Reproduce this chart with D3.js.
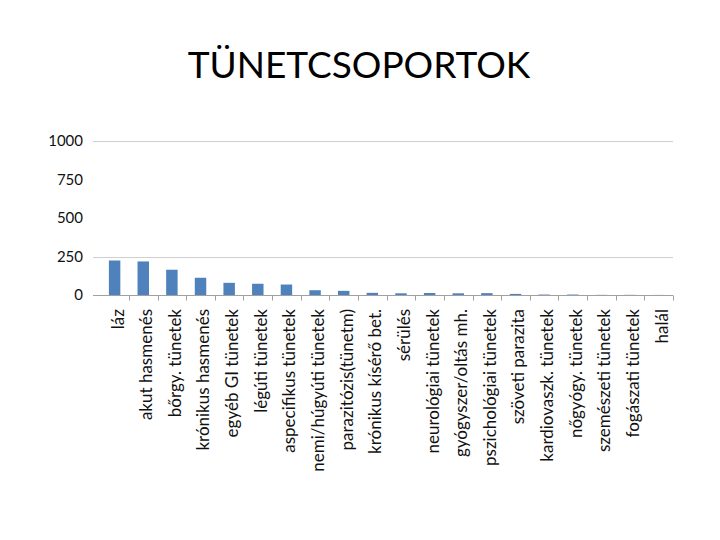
<!DOCTYPE html>
<html>
<head>
<meta charset="utf-8">
<script src="https://cdn.jsdelivr.net/npm/d3@7"></script>
<style>
	body { margin: 0; background: #fff; }
	text { font-family: Lato, "Open Sans", sans-serif; }
</style>
</head>
<body>
<div class="content"></div>
<script>
(function() {
	var categories = ["láz", "akut hasmenés", "bőrgy. tünetek", "krónikus hasmenés", "egyéb GI tünetek",
		"légúti tünetek", "aspecifikus tünetek", "nemi/húgyúti tünetek", "parazitózis(tünetm)", "krónikus kísérő bet.",
		"sérülés", "neurológiai tünetek", "gyógyszer/oltás mh.", "pszichológiai tünetek", "szöveti parazita",
		"kardiovaszk. tünetek", "nőgyógy. tünetek", "szemészeti tünetek", "fogászati tünetek", "halál"];
	var values = [224, 218, 164, 112, 79, 73, 68, 31, 27, 14, 11, 13, 11, 12, 7, 3, 3, 1, 1, 0.5];
	var yTicks = [0, 250, 500, 750, 1000];
	var gridTicks = [250, 1000];

	var svg = d3.select(".content")
		.append("svg")
		.attr("width", 720)
		.attr("height", 540);

	var x = d3.scaleBand()
		.domain(categories)
		.range([100.3, 673])
		.paddingInner(0.6)
		.paddingOuter(0.3);

	var y = d3.scaleLinear()
		.domain([0, 1000])
		.range([295, 141]);

	svg.append("text")
		.text("TÜNETCSOPORTOK")
		.attr("x", 359)
		.attr("y", 78)
		.attr("text-anchor", "middle")
		.style("font-size", "37px")
		.style("fill", "#000");

	// gridlines
	svg.selectAll("line.grid")
		.data(gridTicks)
		.enter().append("line")
		.attr("class", "grid")
		.attr("x1", 93)
		.attr("x2", 673)
		.attr("y1", function(d) { return Math.round(y(d)) + 0.5; })
		.attr("y2", function(d) { return Math.round(y(d)) + 0.5; })
		.style("stroke", "#cfcfcf")
		.style("stroke-width", 1);

	// y labels
	svg.selectAll("text.ylab")
		.data(yTicks)
		.enter().append("text")
		.attr("class", "ylab")
		.text(function(d) { return d; })
		.attr("x", 83)
		.attr("y", function(d) { return y(d); })
		.attr("dy", "0.36em")
		.attr("text-anchor", "end")
		.style("font-size", "15px")
		.style("fill", "#111");

	// bars
	svg.selectAll("rect.bar")
		.data(values)
		.enter().append("rect")
		.attr("class", "bar")
		.attr("x", function(d, i) { return x(categories[i]); })
		.attr("width", x.bandwidth())
		.attr("y", function(d) { return y(d); })
		.attr("height", function(d) { return y(0) - y(d); })
		.style("fill", "#4f81bd");

	// x axis line and ticks
	var step = x.step();
	var base = Math.round(y(0)) + 0.5;
	svg.append("line")
		.attr("x1", 93)
		.attr("x2", 673)
		.attr("y1", base)
		.attr("y2", base)
		.style("stroke", "#a0a0a0");

	svg.selectAll("line.tick")
		.data(categories.slice(1).concat(["end"]))
		.enter().append("line")
		.attr("class", "tick")
		.attr("x1", function(d, i) { return Math.round(x.range()[0] + step * (i + 1)) + 0.5; })
		.attr("x2", function(d, i) { return Math.round(x.range()[0] + step * (i + 1)) + 0.5; })
		.attr("y1", base)
		.attr("y2", base + 5)
		.style("stroke", "#a0a0a0");

	// category labels
	svg.selectAll("text.xlab")
		.data(categories)
		.enter().append("text")
		.attr("class", "xlab")
		.text(function(d) { return d; })
		.attr("transform", function(d) {
			return "translate(" + (x(d) + x.bandwidth() / 2 + 3) + ",309) rotate(-90)";
		})
		.attr("dy", "0.35em")
		.attr("text-anchor", "end")
		.style("font-size", "17px")
		.style("fill", "#111");
}());
</script>
</body>
</html>
